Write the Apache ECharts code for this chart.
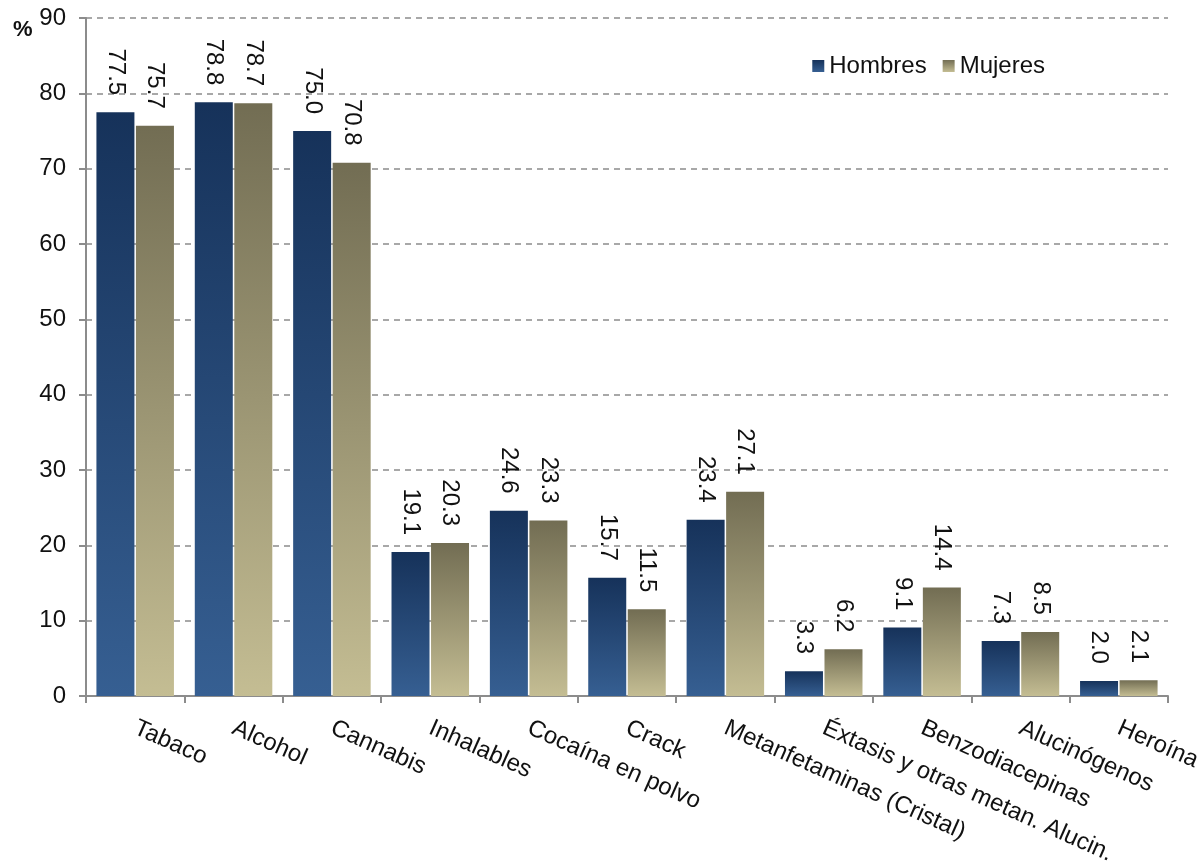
<!DOCTYPE html>
<html>
<head>
<meta charset="utf-8">
<style>
  html, body { margin: 0; padding: 0; background: #fff; }
  #chart { width: 1202px; height: 867px; }
</style>
<script src="https://cdn.jsdelivr.net/npm/echarts@6/dist/echarts.min.js"></script>
</head>
<body>
<div id="chart"></div>
<script>
const categories = [
  'Tabaco', 'Alcohol', 'Cannabis', 'Inhalables', 'Cocaína en polvo', 'Crack',
  'Metanfetaminas (Cristal)', 'Éxtasis y otras metan. Alucin.', 'Benzodiacepinas',
  'Alucinógenos', 'Heroína'
]
const hombres = [77.5, 78.8, 75.0, 19.1, 24.6, 15.7, 23.4, 3.3, 9.1, 7.3, 2.0]
const mujeres = [75.7, 78.7, 70.8, 20.3, 23.3, 11.5, 27.1, 6.2, 14.4, 8.5, 2.1]

const font = 'Liberation Sans, Arial, sans-serif'

const grad = (top, bottom) => ({
  type: 'linear', x: 0, y: 0, x2: 0, y2: 1,
  colorStops: [
    { offset: 0, color: top },
    { offset: 1, color: bottom },
  ],
})

const valueLabel = {
  show: true,
  position: 'top',
  distance: 17,
  rotate: -90,
  align: 'right',
  verticalAlign: 'middle',
  color: '#111',
  fontFamily: font,
  fontSize: 24,
  formatter: (p) => p.value.toFixed(1),
}

const chart = echarts.init(document.getElementById('chart'))

chart.setOption({
  animation: false,
  title: {
    text: '%',
    left: 8,
    top: 14,
    textStyle: { fontFamily: font, fontSize: 22, fontWeight: 'bold', color: '#111' },
  },
  legend: {
    data: ['Hombres', 'Mujeres'],
    right: 152,
    top: 49,
    itemWidth: 12,
    itemHeight: 12,
    itemGap: 16,
    icon: 'rect',
    textStyle: { fontFamily: font, fontSize: 24, color: '#111' },
  },
  grid: {
    left: 86,
    right: 34,
    top: 18,
    bottom: 171,
    outerBoundsMode: 'none',
  },
  xAxis: {
    type: 'category',
    data: categories,
    axisLine: { lineStyle: { color: '#8c8c8c', width: 2 } },
    axisTick: { show: true, length: 7, lineStyle: { color: '#8c8c8c', width: 2 } },
    axisLabel: {
      interval: 0,
      rotate: -24,
      margin: 31,
      color: '#111',
      fontFamily: font,
      fontSize: 24,
    },
  },
  yAxis: {
    type: 'value',
    min: 0,
    max: 90,
    interval: 10,
    axisLine: { show: true, lineStyle: { color: '#8c8c8c', width: 2 } },
    axisTick: { show: true, length: 7, lineStyle: { color: '#8c8c8c', width: 2 } },
    axisLabel: { color: '#111', fontFamily: font, fontSize: 24, margin: 20 },
    splitLine: { lineStyle: { color: '#8c8c8c', type: [6, 5], width: 1.5 } },
  },
  series: [
    {
      name: 'Hombres',
      type: 'bar',
      data: hombres,
      barWidth: 38,
      barGap: '4%',
      itemStyle: { color: grad('#16325a', '#365f92') },
      label: valueLabel,
    },
    {
      name: 'Mujeres',
      type: 'bar',
      data: mujeres,
      barWidth: 38,
      itemStyle: { color: grad('#726d53', '#c4bd93') },
      label: valueLabel,
    },
  ],
})
</script>
</body>
</html>
